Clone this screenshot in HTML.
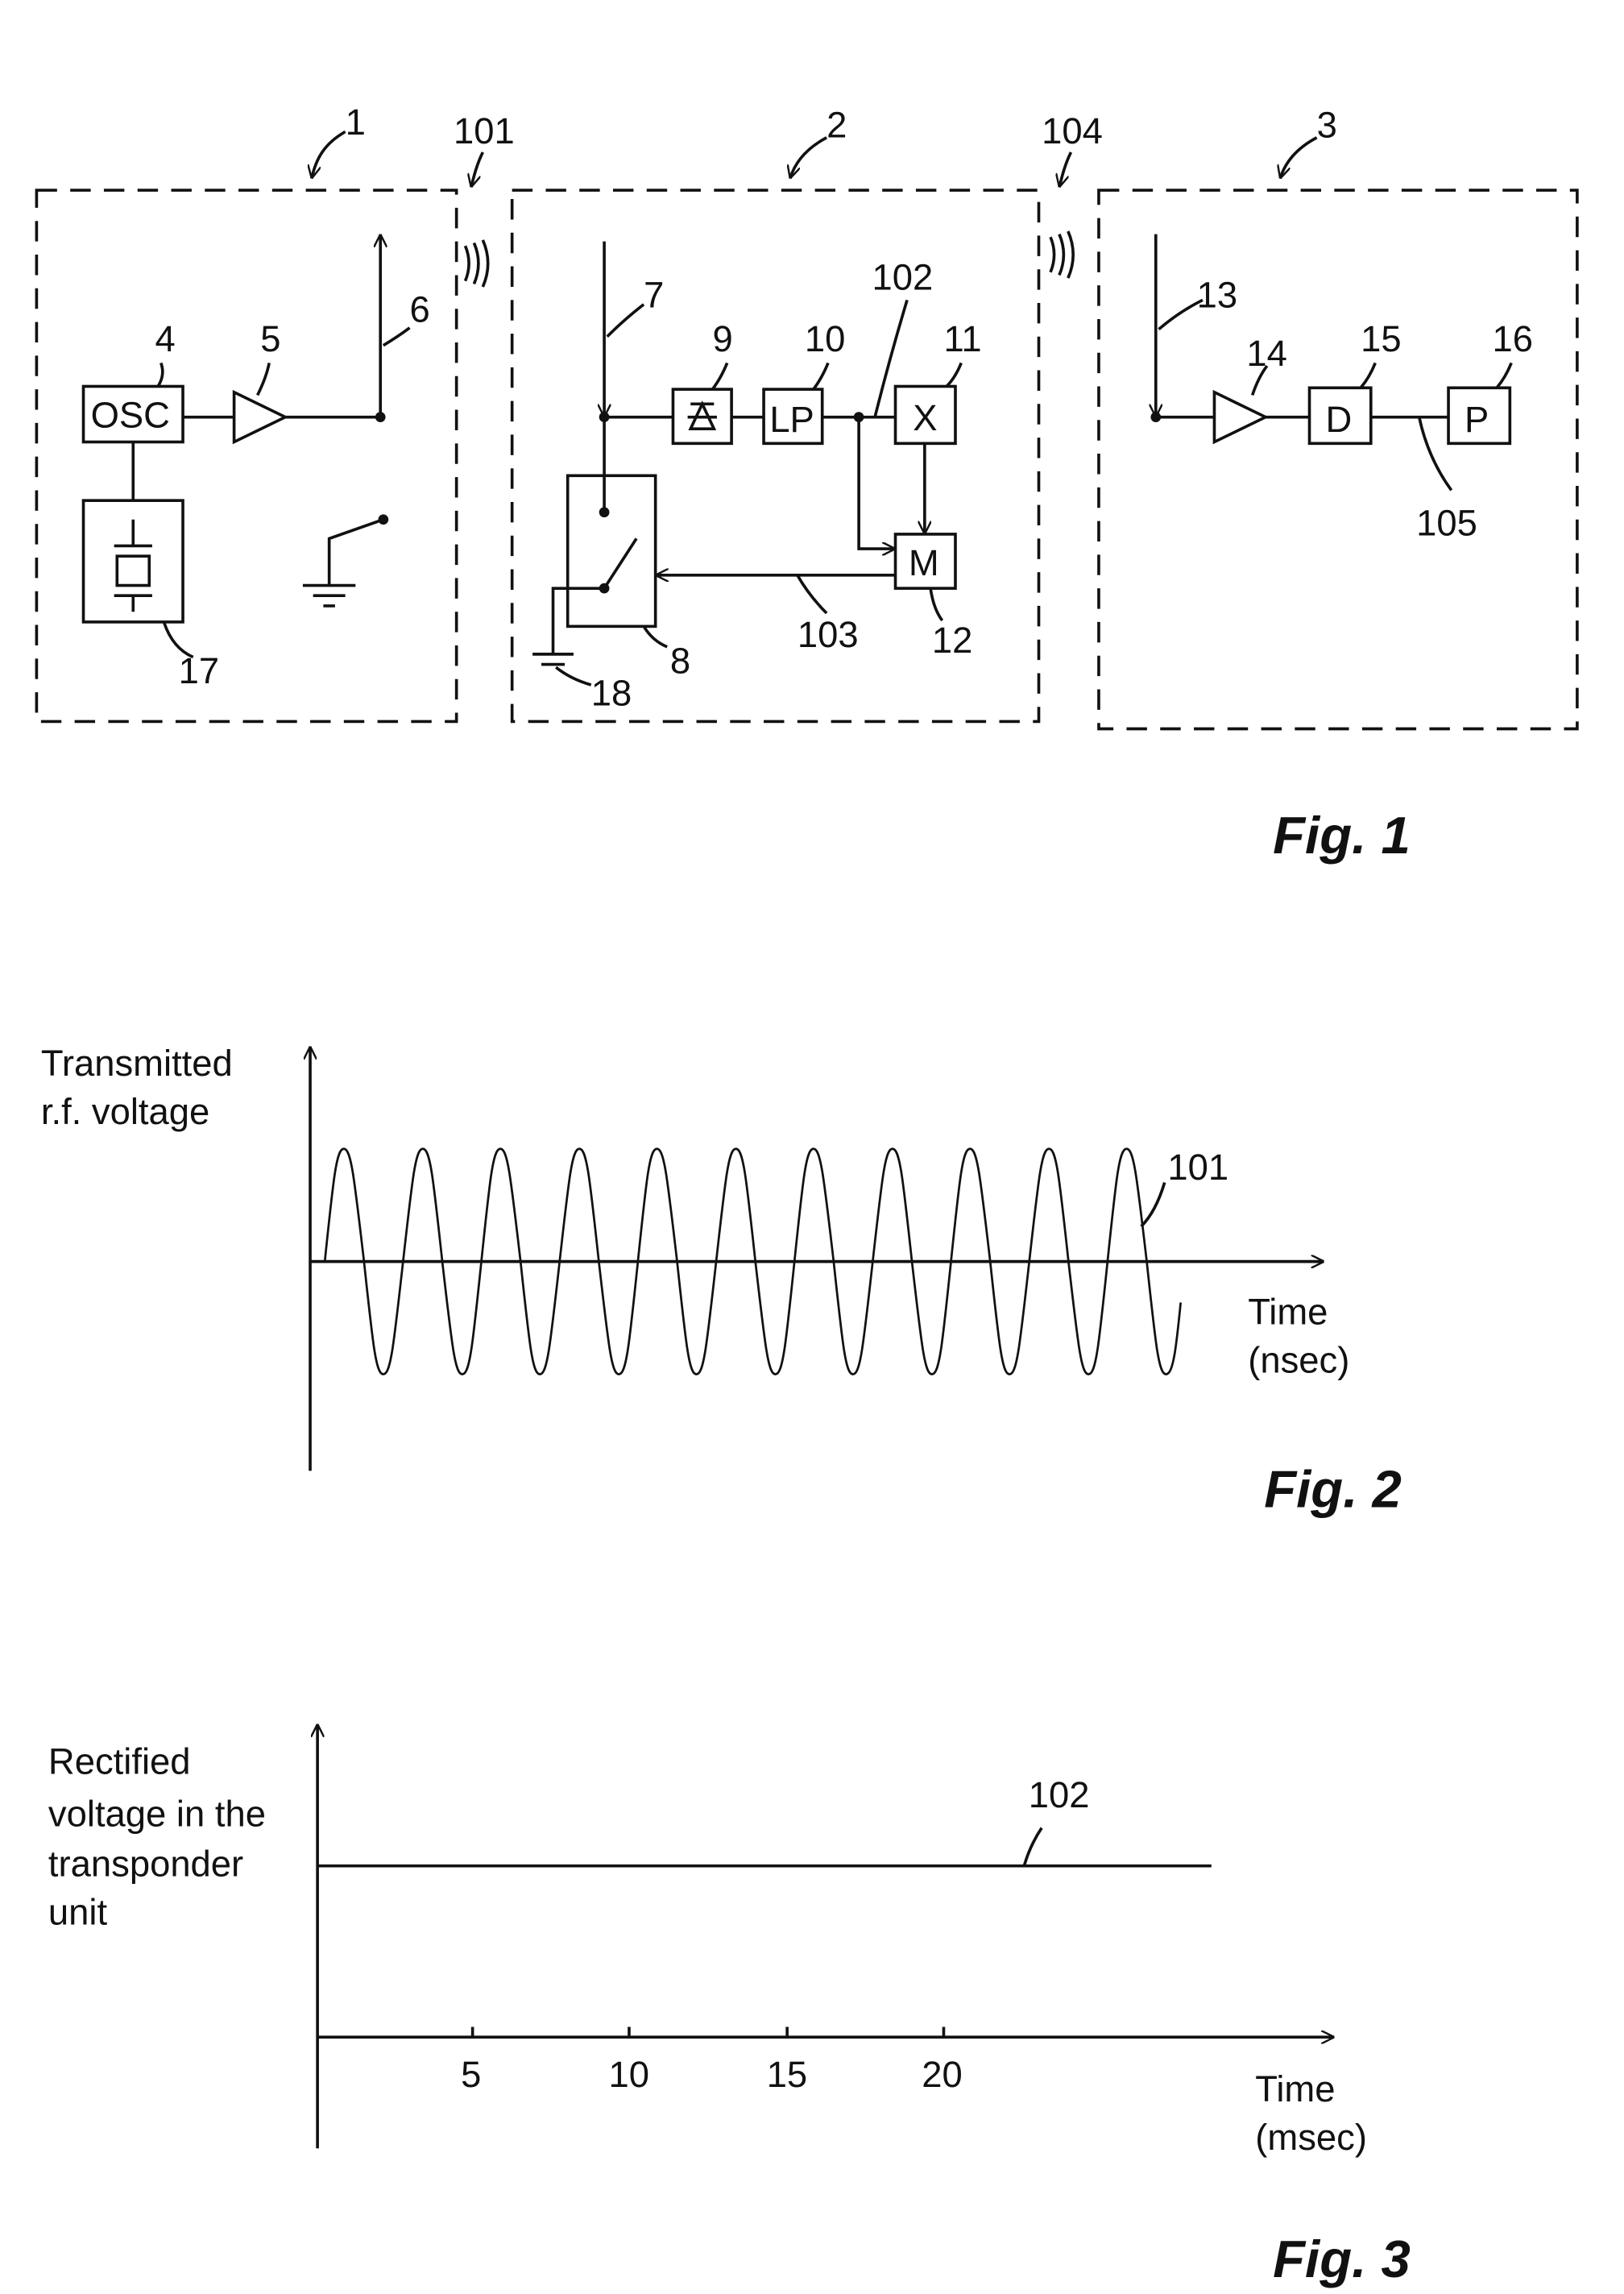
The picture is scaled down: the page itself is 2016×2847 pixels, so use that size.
<!DOCTYPE html>
<html><head><meta charset="utf-8"><style>
html,body{margin:0;padding:0;background:#fff}
svg{display:block}
text{font-family:"Liberation Sans",sans-serif;fill:#111}
</style></head><body>
<svg width="2016" height="2847" viewBox="0 0 1110 1567.5" preserveAspectRatio="none" xmlns="http://www.w3.org/2000/svg">
<defs>
<marker id="a" viewBox="0 0 10 10" refX="10" refY="5" markerWidth="9" markerHeight="9" orient="auto-start-reverse" markerUnits="userSpaceOnUse"><path d="M0,0 L10,5 L0,10" fill="none" stroke="#111" stroke-width="1.5"/></marker>
</defs>
<g stroke="#111" stroke-width="2" fill="none">
<rect x="25" y="130" width="287" height="363" stroke-dasharray="14,9"/>
<rect x="350" y="130" width="360" height="363" stroke-dasharray="14,9"/>
<rect x="751" y="130" width="327" height="368" stroke-dasharray="14,9"/>
<path d="M236,90 C222,98 216,108 213,122" marker-end="url(#a)"/>
<path d="M565,94 C550,102 543,112 540,122" marker-end="url(#a)"/>
<path d="M900,94 C885,102 878,112 875,122" marker-end="url(#a)"/>
<path d="M330,104 C326,112 324,120 322,128" marker-end="url(#a)"/>
<path d="M732,104 C728,112 726,120 724,128" marker-end="url(#a)"/>
<path d="M318,168 q5,12 0,24 M324,166 q6,14 0,28 M330,164 q7,16 0,32"/>
<path d="M718,162 q5,12 0,24 M724,160 q6,14 0,28 M730,158 q7,16 0,32"/>
<rect x="57" y="264" width="68" height="38"/>
<path d="M125,285 H160 M160,268 L195,285 L160,302 Z M195,285 H260"/>
<path d="M260,285 V160" marker-end="url(#a)"/>
<path d="M262,236 q10,-6 18,-12"/>
<line x1="91" y1="302" x2="91" y2="342"/>
<rect x="57" y="342" width="68" height="83"/>
<path d="M91,355 V373 M78,373 H104 M80,380 H102 V400 H80 Z M78,407 H104 M91,407 V418"/>
<path d="M262,355 L225,368 V400 M207,400 H243 M214,407 H236 M221,414 H229"/>
<path d="M112,425 q6,18 20,24"/>
<path d="M110,248 q3,8 -2,16"/>
<path d="M184,248 q-2,10 -8,22"/>
<path d="M413,285 V165" marker-start="url(#a)"/>
<path d="M415,230 q12,-12 25,-22"/>
<path d="M413,285 H460 M500,285 H522 M562,285 H612"/>
<rect x="460" y="266" width="40" height="37"/>
<path d="M470,285 H490 M480,276 L472,293 H488 Z M472,276 H488"/>
<rect x="522" y="266" width="40" height="37"/>
<rect x="612" y="264" width="41" height="39"/>
<rect x="612" y="365" width="41" height="37"/>
<path d="M587,285 V375 H612" marker-end="url(#a)"/>
<path d="M632,303 V365" marker-end="url(#a)"/>
<path d="M612,393 H448" marker-end="url(#a)"/>
<rect x="388" y="325" width="60" height="103"/>
<path d="M413,285 V350 M413,402 L435,368 M413,402 H378 V447 M364,447 H392 M370,454 H386"/>
<path d="M598,285 q10,-40 22,-80"/>
<path d="M497,248 q-4,10 -10,18"/>
<path d="M566,248 q-4,10 -10,18"/>
<path d="M657,248 q-4,10 -10,16"/>
<path d="M636,402 q2,14 8,22"/>
<path d="M545,393 q8,14 20,26"/>
<path d="M440,428 q6,10 16,14"/>
<path d="M380,456 q10,8 24,12"/>
<path d="M790,285 V160" marker-start="url(#a)"/>
<path d="M792,225 q14,-12 30,-20"/>
<path d="M790,285 H830 M830,268 L865,285 L830,302 Z M865,285 H895 M937,285 H990"/>
<rect x="895" y="265" width="42" height="38"/>
<rect x="990" y="265" width="42" height="38"/>
<path d="M970,285 q6,28 22,50"/>
<path d="M866,250 q-6,8 -10,20"/>
<path d="M940,248 q-4,10 -10,17"/>
<path d="M1033,248 q-4,10 -10,17"/>
<path d="M212,1005 V715" marker-end="url(#a)"/>
<path d="M212,862 H905" marker-end="url(#a)"/>
<path stroke-width="1.5" d="M222,862 C228,804 230,785 235,785 C240,785 242,804 248.8,862 C255,920 257,939 262,939 C267,939 269,920 275.5,862 C282,804 284,785 289,785 C294,785 296,804 302.3,862 C309,920 311,939 316,939 C321,939 323,920 329,862 C335,804 337,785 342,785 C347,785 349,804 355.8,862 C362,920 364,939 369,939 C374,939 376,920 382.5,862 C389,804 391,785 396,785 C401,785 403,804 409.3,862 C416,920 418,939 423,939 C428,939 430,920 436,862 C442,804 444,785 449,785 C454,785 456,804 462.8,862 C469,920 471,939 476,939 C481,939 483,920 489.5,862 C496,804 498,785 503,785 C508,785 510,804 516.3,862 C523,920 525,939 530,939 C535,939 537,920 543,862 C549,804 551,785 556,785 C561,785 563,804 569.8,862 C576,920 578,939 583,939 C588,939 590,920 596.5,862 C603,804 605,785 610,785 C615,785 617,804 623.3,862 C630,920 632,939 637,939 C642,939 644,920 650,862 C656,804 658,785 663,785 C668,785 670,804 676.8,862 C683,920 685,939 690,939 C695,939 697,920 703.5,862 C710,804 712,785 717,785 C722,785 724,804 730.3,862 C737,920 739,939 744,939 C749,939 751,920 757,862 C763,804 765,785 770,785 C775,785 777,804 783.8,862 C790,920 792,939 797,939 C802,939 804,920 807,890"/>
<path d="M780,838 q10,-10 16,-30"/>
<path d="M217,1468 V1178" marker-end="url(#a)"/>
<path d="M217,1392 H912" marker-end="url(#a)"/>
<path d="M217,1275 H828"/>
<path d="M323,1392 V1385 M430,1392 V1385 M538,1392 V1385 M645,1392 V1385"/>
<path d="M700,1275 q4,-14 12,-26"/>
</g>
<g fill="#111">
<circle cx="260" cy="285" r="3.5"/><circle cx="262" cy="355" r="3.5"/>
<circle cx="413" cy="285" r="3.5"/><circle cx="587" cy="285" r="3.5"/>
<circle cx="413" cy="350" r="3.5"/><circle cx="413" cy="402" r="3.5"/>
<circle cx="790" cy="285" r="3.5"/>
</g>
<g font-size="25">
<text x="236" y="92">1</text><text x="310" y="98">101</text>
<text x="565" y="94">2</text><text x="712" y="98">104</text>
<text x="900" y="94">3</text>
<text x="106" y="240">4</text><text x="178" y="240">5</text><text x="280" y="220">6</text>
<text x="62" y="292">OSC</text><text x="122" y="467">17</text>
<text x="440" y="210">7</text><text x="487" y="240">9</text><text x="550" y="240">10</text>
<text x="596" y="198">102</text><text x="645" y="240">11</text>
<text x="526" y="295">LP</text><text x="624" y="294">X</text><text x="621" y="393">M</text>
<text x="458" y="460">8</text><text x="404" y="482">18</text><text x="545" y="442">103</text><text x="637" y="446">12</text>
<text x="818" y="210">13</text><text x="852" y="250">14</text><text x="930" y="240">15</text><text x="1020" y="240">16</text>
<text x="906" y="295">D</text><text x="1001" y="295">P</text><text x="968" y="366">105</text>
<text x="28" y="735">Transmitted</text><text x="28" y="768">r.f. voltage</text>
<text x="798" y="806">101</text><text x="853" y="905">Time</text><text x="853" y="938">(nsec)</text>
<text x="33" y="1212">Rectified</text><text x="33" y="1248">voltage in the</text><text x="33" y="1282">transponder</text><text x="33" y="1315">unit</text>
<text x="703" y="1235">102</text>
<text x="315" y="1426">5</text><text x="416" y="1426">10</text><text x="524" y="1426">15</text><text x="630" y="1426">20</text>
<text x="858" y="1436">Time</text><text x="858" y="1469">(msec)</text>
</g>
<g font-size="36" font-weight="bold" font-style="italic">
<text x="870" y="583">Fig. 1</text><text x="864" y="1030">Fig. 2</text><text x="870" y="1556">Fig. 3</text>
</g>
</svg>
</body></html>
